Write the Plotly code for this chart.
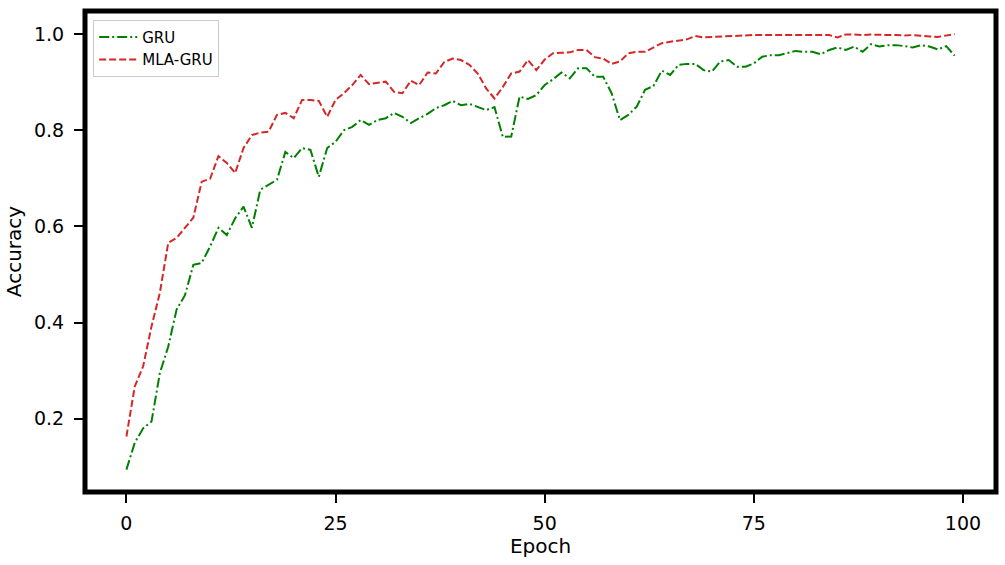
import plotly.graph_objects as go

epochs = list(range(100))

gru_acc = [0.094, 0.15, 0.18, 0.194, 0.295, 0.35, 0.427, 0.457, 0.52, 0.524,
           0.558, 0.597, 0.582, 0.617, 0.641, 0.597, 0.676, 0.686, 0.697, 0.755,
           0.742, 0.763, 0.759, 0.703, 0.763, 0.776, 0.80, 0.807, 0.821, 0.811,
           0.821, 0.825, 0.836, 0.828, 0.815, 0.825, 0.834, 0.846, 0.852, 0.861,
           0.852, 0.855, 0.848, 0.842, 0.848, 0.786, 0.787, 0.870, 0.865, 0.873,
           0.894, 0.906, 0.92, 0.908, 0.929, 0.929, 0.911, 0.911, 0.877, 0.821,
           0.832, 0.849, 0.884, 0.892, 0.924, 0.915, 0.936, 0.938, 0.938, 0.925,
           0.922, 0.943, 0.946, 0.932, 0.932, 0.939, 0.953, 0.956, 0.956, 0.96,
           0.965, 0.963, 0.963, 0.958, 0.967, 0.972, 0.967, 0.974, 0.963, 0.979,
           0.974, 0.977, 0.977, 0.975, 0.972, 0.977, 0.974, 0.968, 0.975, 0.955]

mla_gru_acc = [0.163, 0.267, 0.309, 0.392, 0.462, 0.566, 0.576, 0.597, 0.618, 0.693,
               0.699, 0.746, 0.732, 0.711, 0.763, 0.79, 0.795, 0.797, 0.832, 0.836,
               0.825, 0.863, 0.863, 0.861, 0.828, 0.863, 0.877, 0.894, 0.915, 0.896,
               0.899, 0.901, 0.88, 0.877, 0.903, 0.894, 0.92, 0.918, 0.942, 0.949,
               0.946, 0.936, 0.918, 0.887, 0.866, 0.89, 0.918, 0.922, 0.946, 0.925,
               0.947, 0.96, 0.961, 0.962, 0.967, 0.967, 0.952, 0.949, 0.938, 0.943,
               0.96, 0.963, 0.963, 0.972, 0.981, 0.984, 0.986, 0.989, 0.996, 0.993,
               0.994, 0.995, 0.996, 0.996, 0.997, 0.998, 0.998, 0.998, 0.998, 0.998,
               0.997, 0.998, 0.998, 0.997, 0.998, 0.993, 0.999, 0.999, 0.998, 0.999,
               0.998, 0.998, 0.998, 0.997, 0.998, 0.996, 0.995, 0.994, 0.997, 1.0]

x_ticks = [0, 25, 50, 75, 100]
y_ticks = [0.2, 0.4, 0.6, 0.8, 1.0]
y_tick_labels = ["0.2", "0.4", "0.6", "0.8", "1.0"]

FONT = "DejaVu Sans, Arial, sans-serif"

fig = go.Figure()
fig.add_trace(go.Scatter(x=epochs, y=gru_acc, mode="lines", name="GRU",
                         line=dict(color="#008000", width=2, dash="10px,3px,2px,3px")))
fig.add_trace(go.Scatter(x=epochs, y=mla_gru_acc, mode="lines", name="MLA-GRU",
                         line=dict(color="#d62728", width=2, dash="7px,3px")))

fig.update_layout(
    width=1005, height=565,
    margin=dict(l=84.5, r=8.5, t=11, b=72.5, pad=0, autoexpand=False),
    paper_bgcolor="white", plot_bgcolor="white",
    font=dict(family=FONT, color="black"),
    showlegend=True,
    legend=dict(x=0.009, y=0.982, xanchor="left", yanchor="top",
                bgcolor="rgba(255,255,255,0.8)", bordercolor="#cccccc", borderwidth=1,
                font=dict(size=15, family=FONT), itemwidth=38, tracegroupgap=0),
    xaxis=dict(range=[-4.95, 103.95], tickvals=x_ticks, ticks="outside", ticklen=10,
               tickwidth=2, tickcolor="black", showgrid=False, zeroline=False,
               showline=False, tickfont=dict(size=19, family=FONT),
               ticklabelstandoff=4, automargin=False,
               title=dict(text="Epoch", font=dict(size=20, family=FONT), standoff=4)),
    yaxis=dict(range=[0.0475, 1.048], tickvals=y_ticks, ticktext=y_tick_labels,
               ticks="outside", ticklen=10, tickwidth=2, tickcolor="black",
               showgrid=False, zeroline=False, showline=False, automargin=False,
               tickfont=dict(size=19, family=FONT), ticklabelstandoff=6,
               title=dict(text="Accuracy", font=dict(size=20, family=FONT), standoff=6)),
    shapes=[dict(type="rect", xref="paper", yref="paper", x0=0, x1=1, y0=0, y1=1,
                 line=dict(color="black", width=5), fillcolor="rgba(0,0,0,0)", layer="above")],
)

fig.write_html("out.html", config={"displayModeBar": False},
               post_script="document.body.style.margin='0px';document.body.style.padding='0px';")
